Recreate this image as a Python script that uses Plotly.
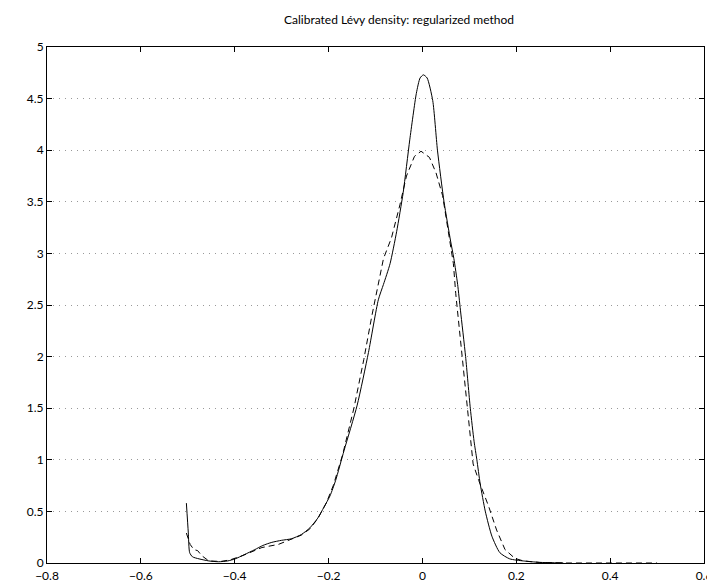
import plotly.graph_objects as go

# Solid curve (calibrated density)
x_solid = [-0.503, -0.499, -0.496, -0.490, -0.476, -0.455, -0.434, -0.415, -0.399, -0.380,
           -0.357, -0.340, -0.321, -0.300, -0.279, -0.258, -0.240, -0.223, -0.210, -0.197,
           -0.185, -0.167, -0.139, -0.115, -0.094, -0.083, -0.069, -0.055, -0.041, -0.027,
           -0.013, -0.005, 0.002, 0.010, 0.022, 0.032, 0.046, 0.060, 0.067, 0.075,
           0.081, 0.092, 0.102, 0.110, 0.116, 0.123, 0.134, 0.148, 0.165, 0.186,
           0.215, 0.250, 0.300]
y_solid = [0.58, 0.30, 0.10, 0.06, 0.04, 0.02, 0.012, 0.02, 0.04, 0.08,
           0.13, 0.17, 0.20, 0.22, 0.235, 0.276, 0.34, 0.435, 0.54, 0.65,
           0.80, 1.09, 1.53, 2.04, 2.55, 2.70, 2.90, 3.21, 3.59, 4.10,
           4.55, 4.70, 4.73, 4.70, 4.48, 4.00, 3.50, 3.12, 2.95, 2.70,
           2.45, 2.00, 1.50, 1.18, 1.00, 0.77, 0.50, 0.26, 0.10, 0.04,
           0.02, 0.006, 0.001]

# Dashed curve
x_dash = [-0.503, -0.495, -0.487, -0.479, -0.470, -0.455, -0.430, -0.410, -0.384, -0.342,
          -0.307, -0.279, -0.258, -0.240, -0.223, -0.205, -0.190, -0.170, -0.146, -0.125,
          -0.108, -0.083, -0.066, -0.048, -0.034, -0.017, -0.003, 0.015, 0.029, 0.043,
          0.057, 0.066, 0.071, 0.085, 0.095, 0.104, 0.108, 0.120, 0.141, 0.158,
          0.176, 0.197, 0.215, 0.250, 0.300, 0.400, 0.500]
y_dash = [0.29, 0.18, 0.13, 0.12, 0.07, 0.02, 0.015, 0.03, 0.07, 0.15,
          0.18, 0.235, 0.27, 0.33, 0.43, 0.58, 0.75, 1.05, 1.50, 1.97,
          2.39, 2.95, 3.15, 3.47, 3.75, 3.94, 3.99, 3.93, 3.78, 3.56,
          3.15, 2.90, 2.61, 2.00, 1.50, 1.12, 0.96, 0.80, 0.55, 0.32,
          0.13, 0.045, 0.02, 0.005, 0.0, 0.0, 0.0]

x_ticks = [-0.8, -0.6, -0.4, -0.2, 0, 0.2, 0.4, 0.6]
x_tick_labels = ["\u22120.8", "\u22120.6", "\u22120.4", "\u22120.2", "0", "0.2", "0.4", "0.6"]
y_ticks = [0, 0.5, 1, 1.5, 2, 2.5, 3, 3.5, 4, 4.5, 5]
y_tick_labels = ["0", "0.5", "1", "1.5", "2", "2.5", "3", "3.5", "4", "4.5", "5"]

fig = go.Figure()
fig.add_trace(go.Scatter(x=x_solid, y=y_solid, mode="lines", line_shape="spline",
                         line=dict(color="black", width=1, smoothing=0.6), showlegend=False))
fig.add_trace(go.Scatter(x=x_dash, y=y_dash, mode="lines",
                         line=dict(color="black", width=1, dash="6px,4px"), showlegend=False))

font_family = "Lato, 'Open Sans', sans-serif"
fig.update_layout(
    width=715, height=586,
    margin=dict(l=39, r=11, t=39, b=22),
    paper_bgcolor="white", plot_bgcolor="white",
    font=dict(family=font_family, color="black", size=12),
    title=dict(text="Calibrated L\u00e9vy density: regularized method",
               x=(39 + 352) / 715, xanchor="center", y=1 - 12 / 586, yanchor="middle",
               font=dict(size=12, family=font_family, color="black")),
)
fig.update_xaxes(range=[-0.8, 0.6], tickvals=x_ticks, ticktext=x_tick_labels,
                 ticks="inside", ticklen=5, tickcolor="black", tickwidth=1,
                 showline=True, linecolor="black", linewidth=1, mirror="ticks",
                 showgrid=False, zeroline=False, tickfont=dict(size=12),
                 ticklabeloverflow="allow", ticklabelstandoff=2)
fig.update_yaxes(range=[0, 5], tickvals=y_ticks, ticktext=y_tick_labels,
                 ticks="inside", ticklen=5, tickcolor="black", tickwidth=1,
                 showline=True, linecolor="black", linewidth=1, mirror="ticks",
                 showgrid=True, gridcolor="#999999", griddash="1px,5px", gridwidth=1,
                 zeroline=False, tickfont=dict(size=12))

fig.write_html("out.html")
